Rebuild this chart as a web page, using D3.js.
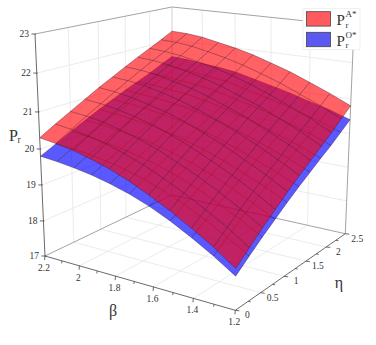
<!DOCTYPE html>
<html>
<head>
<meta charset="utf-8">
<script src="https://cdn.jsdelivr.net/npm/d3@7"></script>
<style>
body { margin: 0; background: #fff; }
text { font-family: "Liberation Serif", serif; fill: #333; }
</style>
</head>
<body>
<script>
const w = 376, h = 345;

const betas = [1.2, 1.3, 1.4, 1.5, 1.6, 1.7, 1.8, 1.9, 2.0, 2.1, 2.2];
const etas = [0, 0.25, 0.5, 0.75, 1, 1.25, 1.5, 1.75, 2, 2.25, 2.5];

const betaTicks = [1.2, 1.4, 1.6, 1.8, 2, 2.2];
const etaTicks = [0, 0.5, 1, 1.5, 2, 2.5];
const zTicks = [17, 18, 19, 20, 21, 22, 23];

// one row per eta, one column per beta
const prA = [
  [18.10, 18.50, 18.85, 19.17, 19.45, 19.70, 19.90, 20.05, 20.17, 20.25, 20.30],
  [18.42, 18.81, 19.14, 19.45, 19.72, 19.96, 20.15, 20.30, 20.41, 20.49, 20.54],
  [18.74, 19.10, 19.43, 19.72, 19.98, 20.21, 20.39, 20.53, 20.65, 20.72, 20.76],
  [19.03, 19.39, 19.70, 19.98, 20.23, 20.45, 20.63, 20.76, 20.87, 20.94, 20.98],
  [19.32, 19.66, 19.95, 20.23, 20.46, 20.68, 20.85, 20.97, 21.08, 21.15, 21.19],
  [19.59, 19.91, 20.20, 20.46, 20.69, 20.89, 21.06, 21.18, 21.29, 21.35, 21.38],
  [19.84, 20.16, 20.43, 20.69, 20.90, 21.10, 21.26, 21.37, 21.48, 21.54, 21.57],
  [20.08, 20.39, 20.65, 20.90, 21.10, 21.29, 21.44, 21.56, 21.66, 21.72, 21.75],
  [20.31, 20.61, 20.86, 21.10, 21.30, 21.48, 21.62, 21.73, 21.83, 21.89, 21.92],
  [20.56, 20.84, 21.08, 21.31, 21.50, 21.67, 21.81, 21.92, 22.02, 22.07, 22.09],
  [20.80, 21.07, 21.30, 21.52, 21.70, 21.87, 22.00, 22.10, 22.20, 22.25, 22.27]
];

const prO = [
  [17.90, 18.27, 18.60, 18.90, 19.15, 19.35, 19.50, 19.62, 19.70, 19.76, 19.80],
  [18.20, 18.55, 18.86, 19.14, 19.38, 19.57, 19.72, 19.83, 19.91, 19.97, 20.00],
  [18.49, 18.82, 19.11, 19.37, 19.60, 19.78, 19.92, 20.03, 20.10, 20.16, 20.20],
  [18.76, 19.07, 19.34, 19.60, 19.81, 19.98, 20.12, 20.22, 20.29, 20.35, 20.39],
  [19.03, 19.32, 19.57, 19.81, 20.01, 20.17, 20.31, 20.41, 20.47, 20.53, 20.57],
  [19.28, 19.55, 19.78, 20.01, 20.20, 20.36, 20.49, 20.58, 20.65, 20.70, 20.74],
  [19.51, 19.77, 19.99, 20.20, 20.38, 20.53, 20.66, 20.75, 20.81, 20.86, 20.90],
  [19.74, 19.98, 20.18, 20.38, 20.55, 20.70, 20.82, 20.91, 20.96, 21.02, 21.05],
  [19.95, 20.18, 20.36, 20.56, 20.71, 20.85, 20.98, 21.06, 21.11, 21.16, 21.19],
  [20.18, 20.39, 20.56, 20.74, 20.88, 21.02, 21.14, 21.21, 21.27, 21.32, 21.35],
  [20.40, 20.60, 20.75, 20.92, 21.05, 21.18, 21.30, 21.37, 21.42, 21.47, 21.50]
];

const svg = d3.select("body").append("svg")
  .attr("width", w)
  .attr("height", h);

// box corners on screen, from the front corner going round
const floorCorners = [[235.3, 310.3], [45, 256], [172, 195], [345.3, 233.7]];
const topCorners = [[238, 70], [35, 34], [172, 7], [354, 26]];

function quad(p0, p1, p2, p3) {
  const dx1 = p1[0] - p2[0], dx2 = p3[0] - p2[0], sx = p0[0] - p1[0] + p2[0] - p3[0];
  const dy1 = p1[1] - p2[1], dy2 = p3[1] - p2[1], sy = p0[1] - p1[1] + p2[1] - p3[1];
  const det = dx1 * dy2 - dx2 * dy1;
  const g = (sx * dy2 - dx2 * sy) / det;
  const k = (dx1 * sy - sx * dy1) / det;
  return (u, v) => {
    const d = g * u + k * v + 1;
    return [
      ((p1[0] * (1 + g) - p0[0]) * u + (p3[0] * (1 + k) - p0[0]) * v + p0[0]) / d,
      ((p1[1] * (1 + g) - p0[1]) * u + (p3[1] * (1 + k) - p0[1]) * v + p0[1]) / d
    ];
  };
}

const floorMap = quad(...floorCorners);
const topMap = quad(...topCorners);

const xBeta = d3.scaleLinear().domain([1.2, 2.2]).range([0, 1]);
const yEta = d3.scaleLinear().domain([0, 2.5]).range([0, 1]);
// the z axis is a little stretched towards the top by the perspective
const zHeight = d3.scaleLinear().domain(zTicks).range([0, 0.158, 0.32, 0.482, 0.649, 0.824, 1]);

function project(beta, eta, z) {
  const a = floorMap(xBeta(beta), yEta(eta));
  const b = topMap(xBeta(beta), yEta(eta));
  const t = zHeight(z);
  return [a[0] + (b[0] - a[0]) * t, a[1] + (b[1] - a[1]) * t];
}

const line = d3.line();
const gridColor = "#e6e6e6";
const boxColor = "#8c8c8c";

// walls and floor
const walls = svg.append("g").attr("fill", "none");
function wallLine(pts, color, width) {
  walls.append("path")
    .attr("d", line(pts))
    .attr("stroke", color)
    .attr("stroke-width", width);
}
etaTicks.slice(1, -1).forEach(e => {
  wallLine([project(2.2, e, 17), project(2.2, e, 23)], gridColor, 0.8);
  wallLine([project(1.2, e, 17), project(2.2, e, 17)], gridColor, 0.8);
});
betaTicks.slice(1, -1).forEach(b => {
  wallLine([project(b, 2.5, 17), project(b, 2.5, 23)], gridColor, 0.8);
  wallLine([project(b, 0, 17), project(b, 2.5, 17)], gridColor, 0.8);
});
zTicks.slice(1, -1).forEach(z => {
  wallLine([project(2.2, 0, z), project(2.2, 2.5, z), project(1.2, 2.5, z)], gridColor, 0.8);
});
wallLine([project(2.2, 0, 17), project(2.2, 2.5, 17), project(1.2, 2.5, 17)], boxColor, 0.8);
wallLine([project(2.2, 0, 23), project(2.2, 2.5, 23), project(1.2, 2.5, 23), project(1.2, 2.5, 17)], boxColor, 0.8);
wallLine([project(2.2, 2.5, 17), project(2.2, 2.5, 23)], "#c4c4c4", 0.8);

function drawSurface(values, color, opacity) {
  const g = svg.append("g");
  const outline = []
    .concat(betas.map(b => project(b, 0, values[0][betas.indexOf(b)])))
    .concat(etas.map((e, i) => project(2.2, e, values[i][10])))
    .concat(betas.map((b, j) => project(b, 2.5, values[10][j])).reverse())
    .concat(etas.map((e, i) => project(1.2, e, values[i][0])).reverse());
  g.append("path")
    .attr("d", line(outline) + "Z")
    .attr("fill", color)
    .attr("fill-opacity", opacity);
  etas.forEach((e, i) => {
    g.append("path")
      .attr("d", line(betas.map((b, j) => project(b, e, values[i][j]))))
      .attr("fill", "none")
      .attr("stroke", "#3a1a30")
      .attr("stroke-opacity", 0.65)
      .attr("stroke-width", 0.6);
  });
  betas.forEach((b, j) => {
    g.append("path")
      .attr("d", line(etas.map((e, i) => project(b, e, values[i][j]))))
      .attr("fill", "none")
      .attr("stroke", "#3a1a30")
      .attr("stroke-opacity", 0.65)
      .attr("stroke-width", 0.6);
  });
}

drawSurface(prO, "#0000ff", 0.65);
drawSurface(prA, "#ff0005", 0.62);

// axes
const axes = svg.append("g").attr("fill", "none").attr("stroke", "#444").attr("stroke-width", 0.8);
function axisLine(pts, color) {
  axes.append("path").attr("d", line(pts)).attr("stroke", color || "#444");
}
axisLine([project(2.2, 0, 17), project(2.2, 0, 23)]);
axisLine([project(2.2, 0, 17), project(1.2, 0, 17)]);
axisLine([project(1.2, 0, 17), project(1.2, 2.5, 17)]);

const labels = svg.append("g").attr("font-size", 9.5).attr("text-anchor", "middle");

zTicks.forEach(z => {
  const p = project(2.2, 0, z);
  axisLine([[p[0] - 3.5, p[1]], [p[0] + 1, p[1]]]);
  labels.append("text").attr("x", p[0] - 6).attr("y", p[1] + 3.2)
    .attr("text-anchor", "end").text(z);
});
xBeta.ticks(10).forEach(b => {
  const p = project(b, 0, 17);
  const major = betaTicks.some(t => Math.abs(t - b) < 1e-6);
  axisLine([p, [p[0] - 0.4, p[1] + (major ? 4 : 2.5)]]);
  if (major) {
    labels.append("text").attr("x", p[0] - 1).attr("y", p[1] + 15).text(b);
  }
});
d3.range(0, 2.51, 0.25).forEach(e => {
  const p = project(1.2, e, 17);
  const major = etaTicks.includes(e);
  axisLine([p, [p[0] + (major ? 4 : 2.5), p[1] + 0.5]]);
  if (major) {
    labels.append("text").attr("x", p[0] + 12).attr("y", p[1] + 8).text(e);
  }
});

// axis titles
const titles = svg.append("g");
titles.append("text").attr("x", 9).attr("y", 141).attr("font-size", 16).text("P");
titles.append("text").attr("x", 17.5).attr("y", 143).attr("font-size", 9.5).text("r");
titles.append("text").attr("x", 113).attr("y", 316).attr("font-size", 16)
  .attr("text-anchor", "middle").text("β");
titles.append("text").attr("x", 339).attr("y", 288).attr("font-size", 16)
  .attr("text-anchor", "middle").text("η");

// legend
const legendNames = ["A*", "O*"];
const legendColors = ["#ff5a5f", "#5a5af0"];
const legend = svg.append("g");
legend.append("rect")
  .attr("x", 303).attr("y", 8.5).attr("width", 57).attr("height", 41)
  .attr("fill", "#fff").attr("stroke", "#eeeeee").attr("stroke-width", 0.8);
legendNames.forEach((name, i) => {
  const y0 = 11.7 + i * 20.6;
  legend.append("rect")
    .attr("x", 306.5).attr("y", y0).attr("width", 24).attr("height", 14.4)
    .attr("fill", legendColors[i]).attr("stroke", "#444").attr("stroke-width", 0.8);
  legend.append("text").attr("x", 336.5).attr("y", y0 + 13.5).attr("font-size", 15).text("P");
  legend.append("text").attr("x", 345.5).attr("y", y0 + 5.5).attr("font-size", 9).text(name);
  legend.append("text").attr("x", 345.5).attr("y", y0 + 16).attr("font-size", 9).text("r");
});
</script>
</body>
</html>
